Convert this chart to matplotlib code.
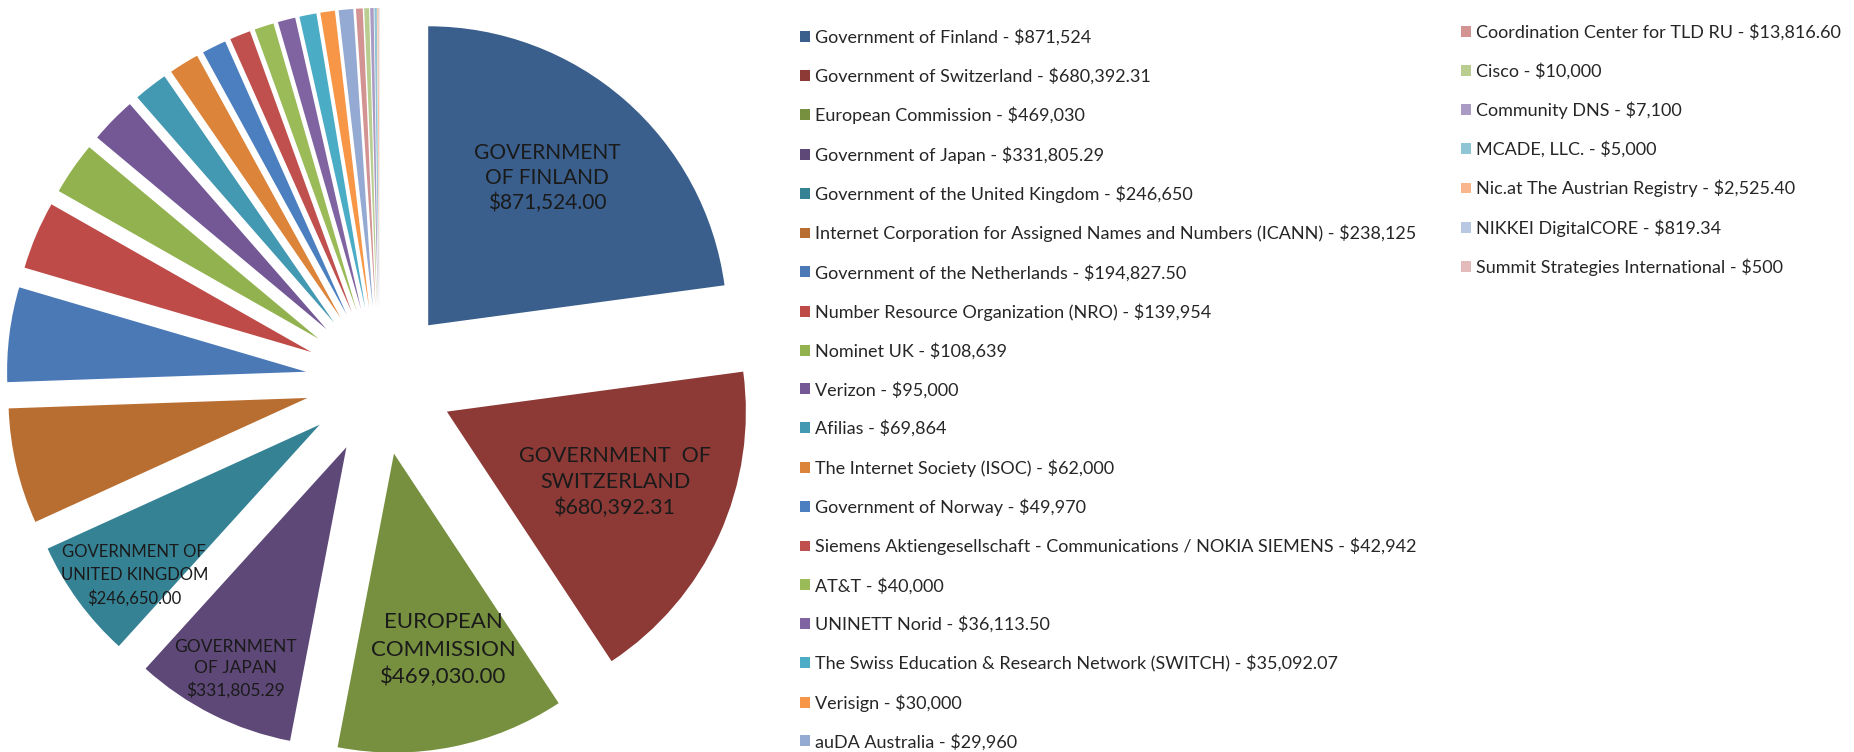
import numpy as np
import matplotlib
matplotlib.use("Agg")
import matplotlib.pyplot as plt

plt.rcParams['font.family'] = ['Lato', 'DejaVu Sans']

names = [
    "Government of Finland", "Government of Switzerland", "European Commission",
    "Government of Japan", "Government of the United Kingdom",
    "Internet Corporation for Assigned Names and Numbers (ICANN)",
    "Government of the Netherlands", "Number Resource Organization (NRO)",
    "Nominet UK", "Verizon", "Afilias", "The Internet Society (ISOC)",
    "Government of Norway",
    "Siemens Aktiengesellschaft - Communications / NOKIA SIEMENS",
    "AT&T", "UNINETT Norid", "The Swiss Education & Research Network (SWITCH)",
    "Verisign", "auDA Australia", "Coordination Center for TLD RU", "Cisco",
    "Community DNS", "MCADE, LLC.", "Nic.at The Austrian Registry",
    "NIKKEI DigitalCORE", "Summit Strategies International",
]
amount_text = [
    "$871,524", "$680,392.31", "$469,030", "$331,805.29", "$246,650",
    "$238,125", "$194,827.50", "$139,954", "$108,639", "$95,000", "$69,864",
    "$62,000", "$49,970", "$42,942", "$40,000", "$36,113.50", "$35,092.07",
    "$30,000", "$29,960", "$13,816.60", "$10,000", "$7,100", "$5,000",
    "$2,525.40", "$819.34", "$500",
]
values = [
    871524, 680392.31, 469030, 331805.29, 246650, 238125, 194827.50, 139954,
    108639, 95000, 69864, 62000, 49970, 42942, 40000, 36113.50, 35092.07,
    30000, 29960, 13816.60, 10000, 7100, 5000, 2525.40, 819.34, 500,
]
slice_labels = [
    "GOVERNMENT\nOF FINLAND\n$871,524.00",
    "GOVERNMENT  OF\nSWITZERLAND\n$680,392.31",
    "EUROPEAN\nCOMMISSION\n$469,030.00",
    "GOVERNMENT\nOF JAPAN\n$331,805.29",
    "GOVERNMENT OF\nUNITED KINGDOM\n$246,650.00",
]
colors = [
    "#3A5F8C", "#8D3A37", "#76903F", "#5E4878", "#368295", "#B96E31",
    "#4A79B6", "#BE4B48", "#92B250", "#745896", "#4299B1", "#DC8439",
    "#4B7FC0", "#C0504D", "#9BBB59", "#8064A2", "#4BACC6", "#F79646",
    "#95AAD2", "#D39392", "#B9CD91", "#AA9BC4", "#90C5D6", "#F9B58B",
    "#B8C8E3", "#E3BBBA",
]

W, H = 1854, 752
fig = plt.figure(figsize=(W / 100, H / 100), dpi=100)
ax = fig.add_axes([0, 0, 1, 1])

cx, cy, R, EXPL = 379.5, 371.0, 299.0, 74.0
wedges, _ = ax.pie(values, colors=colors, startangle=90, counterclock=False,
                   center=(cx, cy), radius=R, explode=[EXPL] * len(values),
                   wedgeprops=dict(linewidth=0))
ax.set_xlim(0, W)
ax.set_ylim(0, H)
ax.set_aspect('equal')
ax.axis('off')

# data labels inside the five largest slices
label_frac = [0.633, 0.61, 0.677, 0.829, 0.80]
label_dang = [2.3, 1.7, 2.8, 0.0, 3.0]
label_size = [15, 15.5, 16, 12.5, 12]
label_lsp = [1.32, 1.35, 1.45, 1.4, 1.5]
for w, txt, fr, da, fs, ls in zip(wedges, slice_labels, label_frac,
                                  label_dang, label_size, label_lsp):
    tm = np.deg2rad(0.5 * (w.theta1 + w.theta2) + da)
    x0, y0 = w.center
    ax.text(x0 + fr * R * np.cos(tm), y0 + fr * R * np.sin(tm), txt,
            ha='center', va='center', fontsize=fs, color='#1a1a1a',
            linespacing=ls)

legend_labels = [f"{n} - {a}" for n, a in zip(names, amount_text)]
common = dict(loc='upper left', frameon=False, fontsize=13,
              handlelength=0.55, handleheight=0.55, handletextpad=0.3,
              labelspacing=1.215, borderpad=0, borderaxespad=0,
              labelcolor='#262626')
fig.legend(wedges[:19], legend_labels[:19],
           bbox_to_anchor=(800 / W, 1 - 29 / H), **common)
fig.legend(wedges[19:], legend_labels[19:],
           bbox_to_anchor=(1461 / W, 1 - 24 / H), **common)

fig.savefig("out.png", dpi=100)
